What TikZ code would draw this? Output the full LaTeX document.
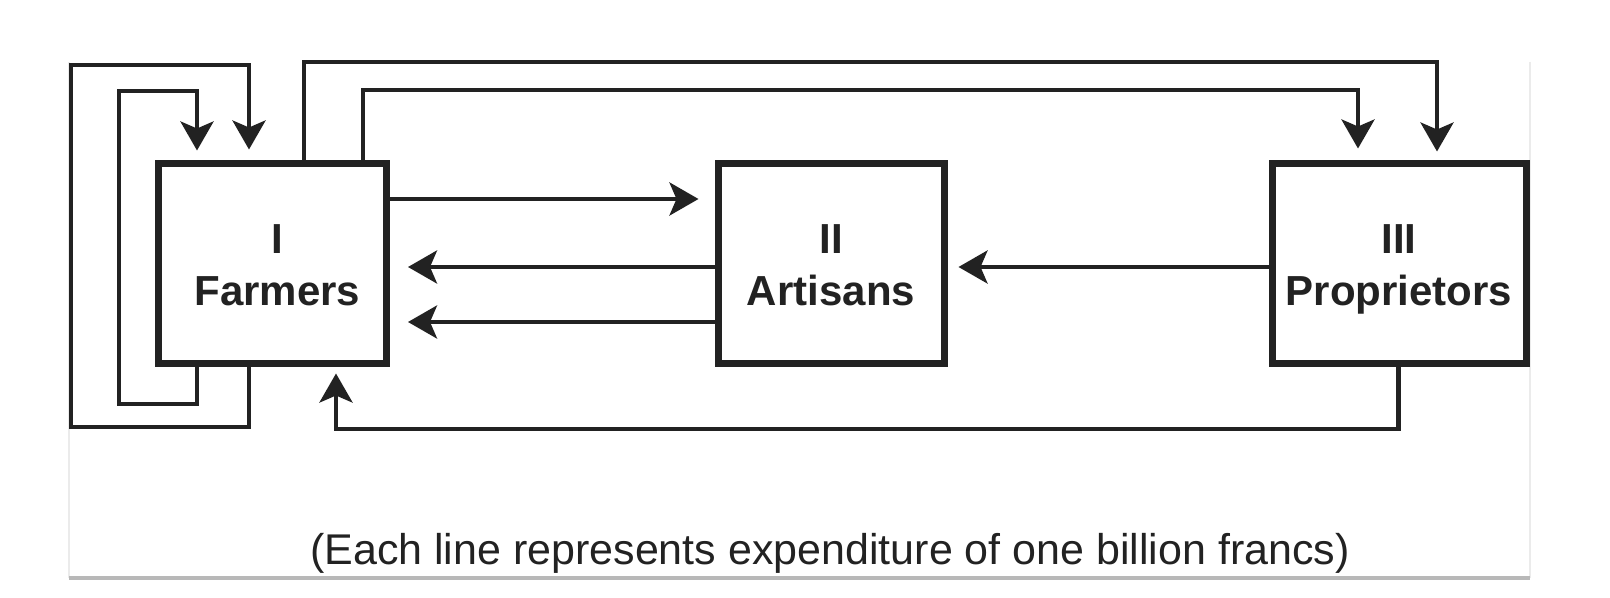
\documentclass[tikz,border=0pt]{standalone}
\usepackage{fontspec}
\setmainfont{Liberation Sans}
\usetikzlibrary{arrows.meta,calc}
\definecolor{ink}{HTML}{222222}
\newcommand{\topstrut}{\rule{0pt}{20pt}}
\begin{document}
\begin{tikzpicture}[x=0.5pt,y=-0.5pt,
  box/.style={draw=ink, line width=3.5pt, fill=white, minimum height=100pt, inner sep=0pt,
    align=center, font=\bfseries\fontsize{21}{26}\selectfont, text=ink},
  link/.style={draw=ink, line width=2.1pt, -{Stealth[length=14.5pt,width=16.5pt,inset=3.5pt]}},
  frame/.style={draw=black!8, line width=1pt},
]
\useasboundingbox (0,0) rectangle (1610,598);
\fill[white] (0,0) rectangle (1610,598);
% faint frame
\draw[frame] (69,62) -- (69,578);
\draw[frame] (1530,62) -- (1530,578);
\draw[draw=black!28, line width=1.6pt] (69,578) -- (1530,578);
% boxes
\node[box, minimum width=114pt] (F) at (272.5,264) {\hspace*{5pt}\topstrut I\\\hspace*{5pt}Farmers\vphantom{p}};
\node[box, minimum width=113pt] (A) at (831,264) {\topstrut II\\Artisans\vphantom{p}};
\node[box, minimum width=127pt] (P) at (1399,264) {\topstrut III\\Proprietors\vphantom{p}};
% self loops of farmers
\draw[link, shorten >=5.5pt] (249,0 |- F.south) |- (71,427) |- (249,65) -- (249,0 |- F.north);
\draw[link, shorten >=5pt] (197,0 |- F.south) |- (119,404) |- (197,91) -- (197,0 |- F.north);
% farmers to proprietors
\draw[link, shorten >=4.5pt] (304,0 |- F.north) |- (1437,62) -- (1437,0 |- P.north);
\draw[link, shorten >=6pt] (363,0 |- F.north) |- (1358,90) -- (1358,0 |- P.north);
% proprietors to farmers
\draw[link, shorten >=3pt] (1398.5,0 |- P.south) |- (336,429) -- (336,0 |- F.south);
% horizontal flows
\draw[link, shorten >=8pt] (F.east |- 0,199) -- (A.west |- 0,199);
\draw[link, shorten >=9pt] (A.west |- 0,267) -- (F.east |- 0,267);
\draw[link, shorten >=9pt] (A.west |- 0,322) -- (F.east |- 0,322);
\draw[link, shorten >=5.5pt] (P.west |- 0,267) -- (A.east |- 0,267);
% caption
\node[font=\fontsize{21.5}{26}\selectfont, text=ink, anchor=base, inner sep=0pt] (cap) at (830,564)
  {(Each line represents expenditure of one billion francs)};
\end{tikzpicture}
\end{document}
